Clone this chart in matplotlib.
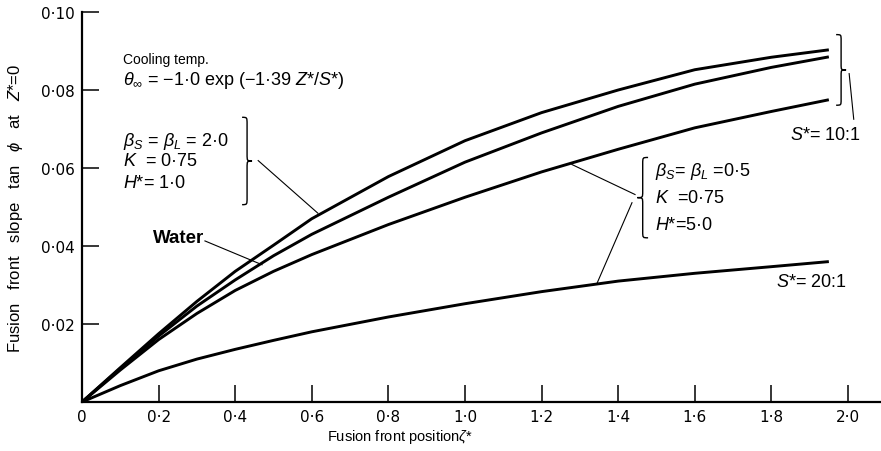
import matplotlib
matplotlib.use("Agg")
import matplotlib.pyplot as plt
from matplotlib.path import Path
from matplotlib.patches import PathPatch

plt.rcParams["font.family"] = ["Liberation Sans", "DejaVu Sans"]
plt.rcParams["mathtext.fontset"] = "custom"
plt.rcParams["mathtext.rm"] = "Liberation Sans"
plt.rcParams["mathtext.it"] = "Liberation Sans:italic"
plt.rcParams["mathtext.bf"] = "Liberation Sans:bold"

# fusion front position
xi = [0, 0.1, 0.2, 0.3, 0.4, 0.5, 0.6, 0.8, 1.0, 1.2, 1.4, 1.6, 1.8, 1.95]

# S* = 10:1, beta_S = beta_L = 2.0
beta2 = [0, 0.0088, 0.0175, 0.0258, 0.0335, 0.0402, 0.0470, 0.0578, 0.0670, 0.0742,
         0.0800, 0.0852, 0.0884, 0.0903]
# S* = 10:1, water
water = [0, 0.0086, 0.0169, 0.0246, 0.0313, 0.0375, 0.0430, 0.0525, 0.0615, 0.0690,
         0.0758, 0.0815, 0.0858, 0.0885]
# S* = 10:1, beta_S = beta_L = 0.5
beta05 = [0, 0.0082, 0.0160, 0.0227, 0.0286, 0.0335, 0.0378, 0.0455, 0.0525, 0.0590,
          0.0648, 0.0703, 0.0745, 0.0775]
# S* = 20:1, beta_S = beta_L = 0.5
s20 = [0, 0.0042, 0.0080, 0.0110, 0.0135, 0.0158, 0.0180, 0.0218, 0.0252, 0.0283,
       0.0310, 0.0330, 0.0347, 0.0360]

xticks = [0, 0.2, 0.4, 0.6, 0.8, 1.0, 1.2, 1.4, 1.6, 1.8, 2.0]
xticklabels = ["0", "0·2", "0·4", "0·6", "0·8", "1·0", "1·2", "1·4", "1·6", "1·8", "2·0"]
yticks = [0, 0.02, 0.04, 0.06, 0.08, 0.10]
yticklabels = ["", "0·02", "0·04", "0·06", "0·08", "0·10"]


def brace(ax, x, y0, y1, w, tip_right=True, lw=1.0):
    # curly brace between y0 (bottom) and y1 (top), base at x, width w (data units)
    s = 1 if tip_right else -1
    xm = x + s * w * 0.5
    xt = x + s * w
    ym = 0.5 * (y0 + y1)
    r = (y1 - y0) * 0.08
    verts = [(x, y1), (xm, y1), (xm, y1), (xm, y1 - r),
             (xm, ym + r),
             (xm, ym), (xm, ym), (xt, ym),
             (xm, ym), (xm, ym), (xm, ym - r),
             (xm, y0 + r),
             (xm, y0), (xm, y0), (x, y0)]
    codes = [Path.MOVETO, Path.CURVE4, Path.CURVE4, Path.CURVE4,
             Path.LINETO,
             Path.CURVE4, Path.CURVE4, Path.CURVE4,
             Path.CURVE4, Path.CURVE4, Path.CURVE4,
             Path.LINETO,
             Path.CURVE4, Path.CURVE4, Path.CURVE4]
    ax.add_patch(PathPatch(Path(verts, codes), fill=False, lw=lw, color="black",
                           clip_on=False))


fig = plt.figure(figsize=(8.81, 4.52), dpi=100)
ax = fig.add_axes([82 / 881, 1 - 403 / 452, 1 - 82 / 881, 390 / 452])

for ys in (beta2, water, beta05, s20):
    ax.plot(xi, ys, color="black", lw=2.1, solid_capstyle="butt",
            solid_joinstyle="round")

ax.set_xlim(0, 799 / 383)
ax.set_ylim(0, 0.10)
for side in ("top", "right"):
    ax.spines[side].set_visible(False)
ax.spines["left"].set_linewidth(1.6)
ax.spines["bottom"].set_linewidth(1.6)

ax.set_xticks(xticks)
ax.set_xticklabels(xticklabels)
ax.set_yticks(yticks)
ax.set_yticklabels(yticklabels)
ax.tick_params(axis="both", direction="in", length=12, width=1.1, labelsize=11,
               labelfontfamily="DejaVu Sans")
ax.tick_params(axis="x", pad=5)
ax.tick_params(axis="y", pad=5)

ax.set_xlabel(r"Fusion front position$\zeta$*", fontsize=10.5)
ax.xaxis.label.set_va("center")
ax.xaxis.set_label_coords((400 - 82) / 799, -(437 - 403) / 390)
ax.set_ylabel(r"Fusion   front   slope   tan   $\phi$   at   $Z$*=0", fontsize=12,
              labelpad=12)

fs = 13
ax.text(0.107, 0.088, "Cooling temp.", fontsize=10, va="center")
ax.text(0.107, 0.0826, r"$\theta_\infty$ = $-$1·0 exp ($-$1·39 $Z$*/$S$*)",
        fontsize=fs, va="center")

ax.text(0.107, 0.0671, r"$\beta_S$ = $\beta_L$ = 2·0", fontsize=fs, va="center")
ax.text(0.107, 0.0619, r"$K$  = 0·75", fontsize=fs, va="center")
ax.text(0.107, 0.0563, r"$H$*= 1·0", fontsize=fs, va="center")
brace(ax, 0.418, 0.0506, 0.073, 0.026, tip_right=True)
ax.plot([0.46, 0.616], [0.0619, 0.0484], color="black", lw=0.8)

ax.text(0.185, 0.0423, "Water", fontsize=13.5, va="center", fontweight="bold")
ax.plot([0.321, 0.47], [0.0413, 0.0352], color="black", lw=0.8)

ax.text(1.496, 0.0594, r"$\beta_S$= $\beta_L$ =0·5", fontsize=fs, va="center")
ax.text(1.496, 0.0524, r"$K$  =0·75", fontsize=fs, va="center")
ax.text(1.496, 0.0454, r"$H$*=5·0", fontsize=fs, va="center")
brace(ax, 1.478, 0.0421, 0.0627, 0.028, tip_right=False)
ax.plot([1.444, 1.279], [0.0532, 0.0609], color="black", lw=0.8)
ax.plot([1.436, 1.345], [0.0511, 0.0305], color="black", lw=0.8)

brace(ax, 1.969, 0.0761, 0.0942, 0.026, tip_right=True)
ax.plot([2.003, 2.015], [0.0842, 0.0725], color="black", lw=0.8)
ax.text(1.94, 0.0686, r"$S$*= 10:1", fontsize=fs, va="center", ha="center")
ax.text(1.903, 0.031, r"$S$*= 20:1", fontsize=fs, va="center", ha="center")

fig.savefig("out.png", dpi=100)
